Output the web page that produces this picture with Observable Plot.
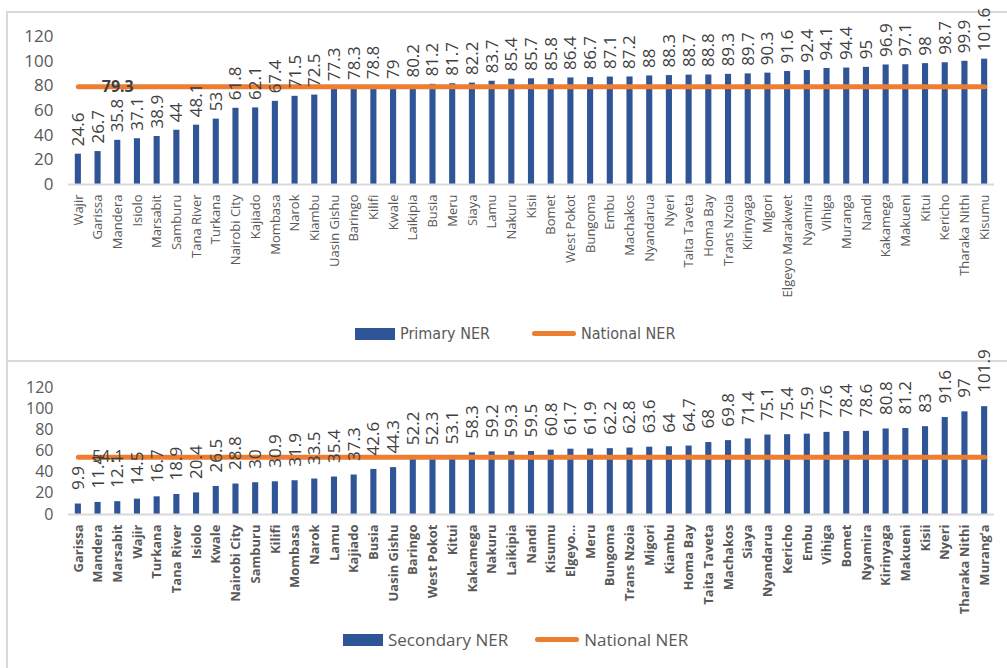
<!DOCTYPE html>
<html>
<head>
<meta charset="utf-8">
<script src="https://cdn.jsdelivr.net/npm/d3@7"></script>
<script src="https://cdn.jsdelivr.net/npm/@observablehq/plot@0.6"></script>
<style>
  html, body { margin: 0; padding: 0; background: #fff; width: 1007px; height: 668px; overflow: hidden; }
  .panel { position: absolute; left: 6px; width: 1010px; border: 2px solid #d9d9d9; border-right: none; box-sizing: border-box; }
  #p1 { top: 11px; height: 351px; }
  #p2 { top: 360px; height: 330px; border-bottom: none; }
  .chart { position: absolute; left: 0; top: 0; }
  .legend { position: absolute; display: flex; align-items: center; color: #595959; }
  .sw-bar { display: inline-block; width: 40px; height: 12px; background: #2F5597; margin-right: 5px; }
  .sw-line { display: inline-block; width: 44px; height: 5px; border-radius: 3px; background: #ED7D31; margin-right: 5px; }
  #lg1 { font-family: "Liberation Sans Narrow", "DejaVu Sans Condensed", "Open Sans", sans-serif; font-size: 16px; }
  #lg2 { font-family: "Open Sans", sans-serif; font-size: 17px; }
</style>
</head>
<body>
<div class="panel" id="p1"><div class="chart" id="c1"></div>
  <div class="legend" id="lg1" style="left:347px; top:311px;">
    <span class="sw-bar"></span><span style="margin-right:42px">Primary NER</span>
    <span class="sw-line"></span><span>National NER</span>
  </div>
</div>
<div class="panel" id="p2"><div class="chart" id="c2"></div>
  <div class="legend" id="lg2" style="left:335px; top:266px;">
    <span class="sw-bar"></span><span style="margin-right:27px">Secondary NER</span>
    <span class="sw-line"></span><span>National NER</span>
  </div>
</div>
<script>
// ---- Primary NER ----
const primaryCounties = ["Wajir","Garissa","Mandera","Isiolo","Marsabit","Samburu","Tana River","Turkana","Nairobi City","Kajiado","Mombasa","Narok","Kiambu","Uasin Gishu","Baringo","Kilifi","Kwale","Laikipia","Busia","Meru","Siaya","Lamu","Nakuru","Kisii","Bomet","West Pokot","Bungoma","Embu","Machakos","Nyandarua","Nyeri","Taita Taveta","Homa Bay","Trans Nzoia","Kirinyaga","Migori","Elgeyo Marakwet","Nyamira","Vihiga","Muranga","Nandi","Kakamega","Makueni","Kitui","Kericho","Tharaka Nithi","Kisumu"];
const primaryNER = [24.6,26.7,35.8,37.1,38.9,44,48.1,53,61.8,62.1,67.4,71.5,72.5,77.3,78.3,78.8,79,80.2,81.2,81.7,82.2,83.7,85.4,85.7,85.8,86.4,86.7,87.1,87.2,88,88.3,88.7,88.8,89.3,89.7,90.3,91.6,92.4,94.1,94.4,95,96.9,97.1,98,98.7,99.9,101.6];
const primaryNational = 79.3;

// ---- Secondary NER ----
const secondaryCounties = ["Garissa","Mandera","Marsabit","Wajir","Turkana","Tana River","Isiolo","Kwale","Nairobi City","Samburu","Kilifi","Mombasa","Narok","Lamu","Kajiado","Busia","Uasin Gishu","Baringo","West Pokot","Kitui","Kakamega","Nakuru","Laikipia","Nandi","Kisumu","Elgeyo…","Meru","Bungoma","Trans Nzoia","Migori","Kiambu","Homa Bay","Taita Taveta","Machakos","Siaya","Nyandarua","Kericho","Embu","Vihiga","Bomet","Nyamira","Kirinyaga","Makueni","Kisii","Nyeri","Tharaka Nithi","Murang’a"];
const secondaryNER = [9.9,11.4,12.1,14.5,16.7,18.9,20.4,26.5,28.8,30,30.9,31.9,33.5,35.4,37.3,42.6,44.3,52.2,52.3,53.1,58.3,59.2,59.3,59.5,60.8,61.7,61.9,62.2,62.8,63.6,64,64.7,68,69.8,71.4,75.1,75.4,75.9,77.6,78.4,78.6,80.8,81.2,83,91.6,97,101.9];
const secondaryNational = 54.1;

const yTicks = [0,20,40,60,80,100,120];

function makeChart(counties, values, national, opts) {
  const rows = counties.map((c, i) => ({county: c, value: values[i], national}));
  return Plot.plot({
    width: 999,
    height: opts.height,
    marginLeft: 60,
    marginRight: 13,
    marginTop: opts.marginTop,
    marginBottom: opts.marginBottom,
    style: {background: "transparent", overflow: "visible"},
    x: {domain: counties, paddingInner: 0.69, paddingOuter: 0.345, align: 0.5, label: null},
    y: {domain: [0, 120], label: null},
    marks: [
      Plot.axisY({ticks: yTicks, tickSize: 0, tickPadding: 15, fontSize: opts.yFont, fill: "#595959",
                  fontFamily: "Open Sans", label: null}),
      Plot.axisX({tickSize: 0, tickPadding: 10, tickRotate: -90, fontSize: 13, fill: "#595959",
                  fontFamily: "Open Sans", fontWeight: opts.xWeight, label: null}),
      Plot.barY(rows, {x: "county", y: "value", fill: "#2F5597"}),
      Plot.ruleY([0], {stroke: "#d9d9d9", strokeWidth: 2}),
      Plot.line(rows, {x: "county", y: "national", stroke: "#ED7D31", strokeWidth: 5, strokeLinecap: "round"}),
      Plot.text(rows, {x: "county", y: "value", text: d => String(d.value), rotate: -90, textAnchor: "start",
                       dy: -opts.labelGap, fontSize: 17, fill: "#404040", fontFamily: "Open Sans"}),
      Plot.text([rows[2]], {x: "county", y: "national", text: d => String(d.national), fontSize: 16,
                            fontWeight: opts.natWeight, fill: "#404040", fontFamily: "Open Sans", dx: opts.natDx})
    ]
  });
}

document.getElementById("c1").append(makeChart(primaryCounties, primaryNER, primaryNational,
  {height: 300, marginTop: 23, marginBottom: 129, labelGap: 8, yFont: 17, xWeight: "normal", natWeight: "bold", natDx: 0}));
document.getElementById("c2").append(makeChart(secondaryCounties, secondaryNER, secondaryNational,
  {height: 256, marginTop: 25, marginBottom: 104, labelGap: 14, yFont: 16, xWeight: "bold", natWeight: "normal", natDx: -10}));
</script>
</body>
</html>
